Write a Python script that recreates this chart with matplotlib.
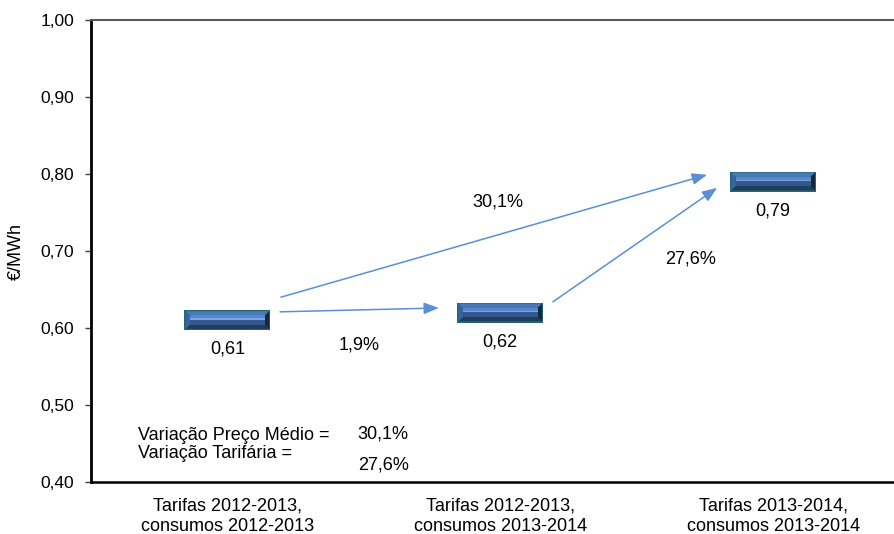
import matplotlib
matplotlib.use("Agg")
import matplotlib.pyplot as plt
from matplotlib.patches import Polygon, Rectangle

plt.rcParams['font.family'] = ['Liberation Sans', 'DejaVu Sans']

# data
categorias = ["Tarifas 2012-2013,\nconsumos 2012-2013",
              "Tarifas 2012-2013,\nconsumos 2013-2014",
              "Tarifas 2013-2014,\nconsumos 2013-2014"]
precos = [0.61, 0.62, 0.79]
rotulos_preco = ["0,61", "0,62", "0,79"]

# arrows between categories: (from, to, label, label x, label y)
ligacoes = [(0, 1, "1,9%", 0.484, 0.578),
            (0, 2, "30,1%", 0.99, 0.764),
            (1, 2, "27,6%", 1.696, 0.690)]
# start/end offsets (dx, dy) of each arrow relative to the box centres
arrow_offsets = [((0.193, 0.011), (-0.225, 0.006)),
                 ((0.196, 0.030), (-0.242, 0.009)),
                 ((0.193, 0.014), (-0.205, -0.008))]

resumo_rotulos = ["Variação Preço Médio =", "Variação Tarifária ="]
resumo_valores = ["30,1%", "27,6%"]

yticks = [0.40, 0.50, 0.60, 0.70, 0.80, 0.90, 1.00]

ARROW_COLOUR = '#5b8fd6'
BOX_W = 0.315   # data units (x)
BOX_H = 0.026   # data units (y)

fig = plt.figure(figsize=(8.95, 5.34), dpi=100)
ax = fig.add_axes([91 / 895, 1 - 482 / 534, 818.5 / 895, 462 / 534])
ax.set_xlim(-0.5, 2.5)
ax.set_ylim(0.40, 1.00)


def draw_box(ax, xc, yc):
    # bevelled bar used as the point marker
    w, h = BOX_W, BOX_H
    bx, by = 0.016, 0.0055
    x0, x1 = xc - w / 2, xc + w / 2
    y0, y1 = yc - h / 2, yc + h / 2
    ax.add_patch(Rectangle((x0, y0), w, h, facecolor='#1e6a6f', edgecolor='none', zorder=3))
    ix0, ix1 = x0 + 0.004, x1 - 0.004
    iy0, iy1 = y0 + 0.0018, y1 - 0.0012
    # bevel facets
    ax.add_patch(Polygon([(ix0, iy1), (ix1, iy1), (ix1 - bx, iy1 - by), (ix0 + bx, iy1 - by)],
                         facecolor='#4a79ba', edgecolor='none', zorder=4))
    ax.add_patch(Polygon([(ix0, iy0), (ix1, iy0), (ix1 - bx, iy0 + by), (ix0 + bx, iy0 + by)],
                         facecolor='#223a5e', edgecolor='none', zorder=4))
    ax.add_patch(Polygon([(ix0, iy0), (ix0, iy1), (ix0 + bx, iy1 - by), (ix0 + bx, iy0 + by)],
                         facecolor='#3a64a0', edgecolor='none', zorder=4))
    ax.add_patch(Polygon([(ix1, iy0), (ix1, iy1), (ix1 - bx, iy1 - by), (ix1 - bx, iy0 + by)],
                         facecolor='#16283f', edgecolor='none', zorder=4))
    # face: lighter top half, darker bottom half, soft highlight
    fx0, fx1 = ix0 + bx, ix1 - bx
    fy0, fy1 = iy0 + by, iy1 - by
    fm = (fy0 + fy1) / 2
    ax.add_patch(Rectangle((fx0, fm), fx1 - fx0, fy1 - fm, facecolor='#5686cb', edgecolor='none', zorder=5))
    ax.add_patch(Rectangle((fx0, fy0), fx1 - fx0, fm - fy0, facecolor='#34578e', edgecolor='none', zorder=5))
    ax.add_patch(Rectangle((fx0, fm + 0.0006), fx1 - fx0, 0.0016, facecolor='#7aa5de', edgecolor='none', zorder=6))


for i, (v, lab) in enumerate(zip(precos, rotulos_preco)):
    draw_box(ax, i, v)
    ax.annotate(lab, (i, v), xytext=(0, -29), textcoords='offset pixels',
                ha='center', va='center', fontsize=13, color='black')

for (a, b, lab, lx, ly), ((sdx, sdy), (edx, edy)) in zip(ligacoes, arrow_offsets):
    ax.annotate('', xy=(b + edx, precos[b] + edy), xytext=(a + sdx, precos[a] + sdy),
                arrowprops=dict(arrowstyle='-|>,head_length=0.9,head_width=0.35',
                                color=ARROW_COLOUR, lw=1.1, shrinkA=0, shrinkB=0),
                zorder=2)
    ax.text(lx, ly, lab, ha='center', va='center', fontsize=13, color='black')

for k, lab in enumerate(resumo_rotulos):
    ax.text(-0.328, 0.461 - k * 0.0235, lab, ha='left', va='center', fontsize=13)
for val, yy in zip(resumo_valores, [0.4625, 0.422]):
    ax.text(0.478, yy, val, ha='left', va='center', fontsize=13)

ax.set_xticks(range(len(categorias)))
ax.set_xticklabels(categorias, fontsize=13, linespacing=1.25)
ax.tick_params(axis='x', length=0, pad=11)
ax.set_yticks(yticks)
ax.set_yticklabels([f"{t:.2f}".replace('.', ',') for t in yticks], fontsize=12.5)
ax.tick_params(axis='y', length=4, width=1, color='#404040', pad=8)

ax.set_ylabel("€/MWh", fontsize=13)
ax.yaxis.set_label_coords(-0.081, 0.5)

ax.spines['right'].set_visible(False)
ax.spines['top'].set_color('#595959')
ax.spines['top'].set_linewidth(1.5)
ax.spines['left'].set_linewidth(2)
ax.spines['bottom'].set_linewidth(1.8)

fig.savefig('out.png', dpi=100)
